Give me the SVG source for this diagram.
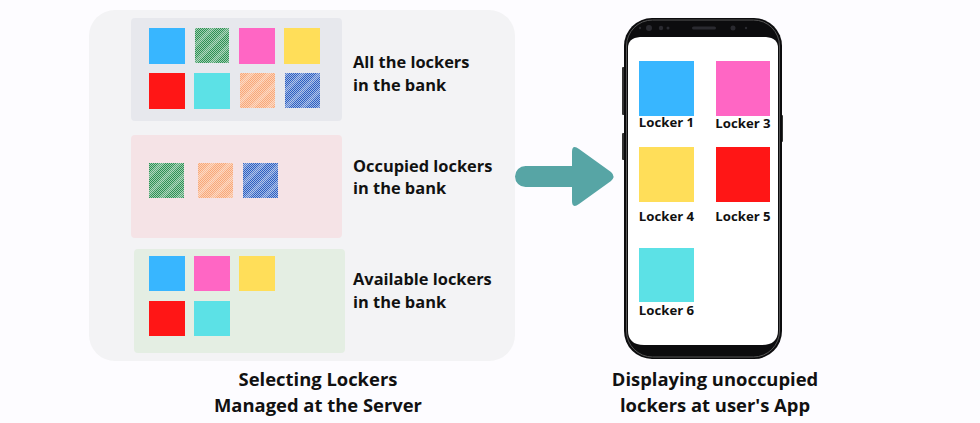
<svg xmlns="http://www.w3.org/2000/svg" width="980" height="423" viewBox="0 0 980 423">
<defs>
<style>
.t{font-family:"Open Sans","Noto Sans","Liberation Sans",sans-serif;font-weight:700;fill:#111;}
.lbl{font-size:16.4px;}
.cap{font-size:18.4px;text-anchor:middle;}
.pl{font-size:13.2px;text-anchor:middle;}
.blue{fill:#38b6ff}.pink{fill:#ff66c4}.yel{fill:#ffde59}.red{fill:#ff1616}.cyan{fill:#5ce1e6}
</style>
<pattern id="chkG" width="2" height="2" patternUnits="userSpaceOnUse">
<rect width="2" height="2" fill="#9fd0b0"/><rect width="1" height="1" fill="#2f8f55"/><rect x="1" y="1" width="1" height="1" fill="#2f8f55"/>
</pattern>
<pattern id="chkO" width="2" height="2" patternUnits="userSpaceOnUse">
<rect width="2" height="2" fill="#fdd2b6"/><rect width="1" height="1" fill="#f7a77a"/><rect x="1" y="1" width="1" height="1" fill="#f7a77a"/>
</pattern>
<pattern id="chkB" width="2" height="2" patternUnits="userSpaceOnUse">
<rect width="2" height="2" fill="#9fb8e6"/><rect width="1" height="1" fill="#2f5fc0"/><rect x="1" y="1" width="1" height="1" fill="#2f5fc0"/>
</pattern>
<pattern id="str" width="12" height="12" patternUnits="userSpaceOnUse" patternTransform="rotate(-45)">
<rect width="12" height="4" fill="#ffffff" opacity="0.2"/>
</pattern>
</defs>
<rect width="980" height="423" fill="#fdfcff"/>

<g id="server-panel">
<rect x="89" y="10" width="426" height="351" rx="26" fill="#f3f3f5"/>
</g>

<g id="all-lockers">
<rect x="131" y="18" width="211" height="103" rx="4" fill="#e7e8ed"/>
<rect class="blue" x="149" y="28" width="36" height="36"/>
<rect fill="url(#chkG)" x="195" y="28" width="34" height="35"/><rect fill="url(#str)" x="195" y="28" width="34" height="35"/>
<rect class="pink" x="239" y="28" width="36" height="36"/>
<rect class="yel" x="284" y="28" width="36" height="36"/>
<rect class="red" x="149" y="73" width="36" height="36"/>
<rect class="cyan" x="194" y="73" width="36" height="36"/>
<rect fill="url(#chkO)" x="240" y="73" width="35" height="35"/><rect fill="url(#str)" x="240" y="73" width="35" height="35"/>
<rect fill="url(#chkB)" x="285" y="73" width="35" height="35"/><rect fill="url(#str)" x="285" y="73" width="35" height="35"/>
<text class="t lbl" x="353" y="68">All the lockers</text>
<text class="t lbl" x="353" y="91">in the bank</text>
</g>

<g id="occupied-lockers">
<rect x="131" y="135" width="211" height="103" rx="4" fill="#f5e3e6"/>
<rect fill="url(#chkG)" x="149" y="163" width="35" height="35"/><rect fill="url(#str)" x="149" y="163" width="35" height="35"/>
<rect fill="url(#chkO)" x="198" y="163" width="35" height="35"/><rect fill="url(#str)" x="198" y="163" width="35" height="35"/>
<rect fill="url(#chkB)" x="243" y="163" width="35" height="35"/><rect fill="url(#str)" x="243" y="163" width="35" height="35"/>
<text class="t lbl" x="353" y="172">Occupied lockers</text>
<text class="t lbl" x="353" y="194">in the bank</text>
</g>

<g id="available-lockers">
<rect x="134" y="249" width="211" height="104" rx="4" fill="#e4eee3"/>
<rect class="blue" x="149" y="256" width="36" height="35"/>
<rect class="pink" x="194" y="256" width="36" height="35"/>
<rect class="yel" x="239" y="256" width="36" height="35"/>
<rect class="red" x="149" y="301" width="36" height="35"/>
<rect class="cyan" x="194" y="301" width="36" height="35"/>
<text class="t lbl" x="353" y="285">Available lockers</text>
<text class="t lbl" x="353" y="308">in the bank</text>
</g>

<g id="server-caption">
<text class="t cap" x="318" y="386">Selecting Lockers</text>
<text class="t cap" x="318" y="412">Managed at the Server</text>
</g>

<g id="connectors">
<path d="M525.5 166 H572 V152 Q572 144 579 149 L611 172 Q616 176.5 611 181 L579 204 Q572 209 572 201 V187 H525.5 A10.5 10.5 0 0 1 525.5 166 Z" fill="#57a5a5"/>
</g>

<g id="phone">
<rect x="622" y="67" width="3" height="48" rx="1" fill="#333"/>
<rect x="622" y="133" width="3" height="27" rx="1" fill="#333"/>
<rect x="780" y="115" width="3" height="27" rx="1" fill="#333"/>
<rect x="624" y="18" width="158" height="341" rx="28" fill="#0c0c0e"/>
<rect x="626.5" y="20" width="153" height="337" rx="26" fill="none" stroke="#555" stroke-width="1"/>
<path d="M628 48 Q628 38 640 37 H766 Q778 38 778 48 V330 Q778 345 762 345 H644 Q628 345 628 330 Z" fill="#ffffff"/>
<circle cx="649" cy="28" r="3" fill="#2a2a30"/>
<circle cx="661" cy="28" r="2.2" fill="#2a2a30"/>
<circle cx="668" cy="28" r="1.5" fill="#2a2a30"/>
<circle cx="640" cy="28" r="1.2" fill="#2a2a30"/>
<rect x="692" y="26.5" width="24" height="3" rx="1.5" fill="#2a2a30"/>
<circle cx="733" cy="28" r="2.5" fill="#2a2a30"/>
<circle cx="746" cy="28" r="1.2" fill="#2a2a30"/>
</g>

<g id="locker-1">
<rect class="blue" x="639" y="61" width="55" height="55"/>
<text class="t pl" x="666.5" y="127">Locker 1</text>
</g>
<g id="locker-3">
<rect class="pink" x="716" y="61" width="54" height="55"/>
<text class="t pl" x="743" y="128">Locker 3</text>
</g>
<g id="locker-4">
<rect class="yel" x="639" y="147" width="55" height="55"/>
<text class="t pl" x="666.5" y="221">Locker 4</text>
</g>
<g id="locker-5">
<rect class="red" x="716" y="147" width="54" height="55"/>
<text class="t pl" x="743" y="221">Locker 5</text>
</g>
<g id="locker-6">
<rect class="cyan" x="639" y="248" width="55" height="54"/>
<text class="t pl" x="666.5" y="315">Locker 6</text>
</g>

<g id="app-caption">
<text class="t cap" x="715" y="386">Displaying unoccupied</text>
<text class="t cap" x="715" y="412">lockers at user's App</text>
</g>
</svg>
